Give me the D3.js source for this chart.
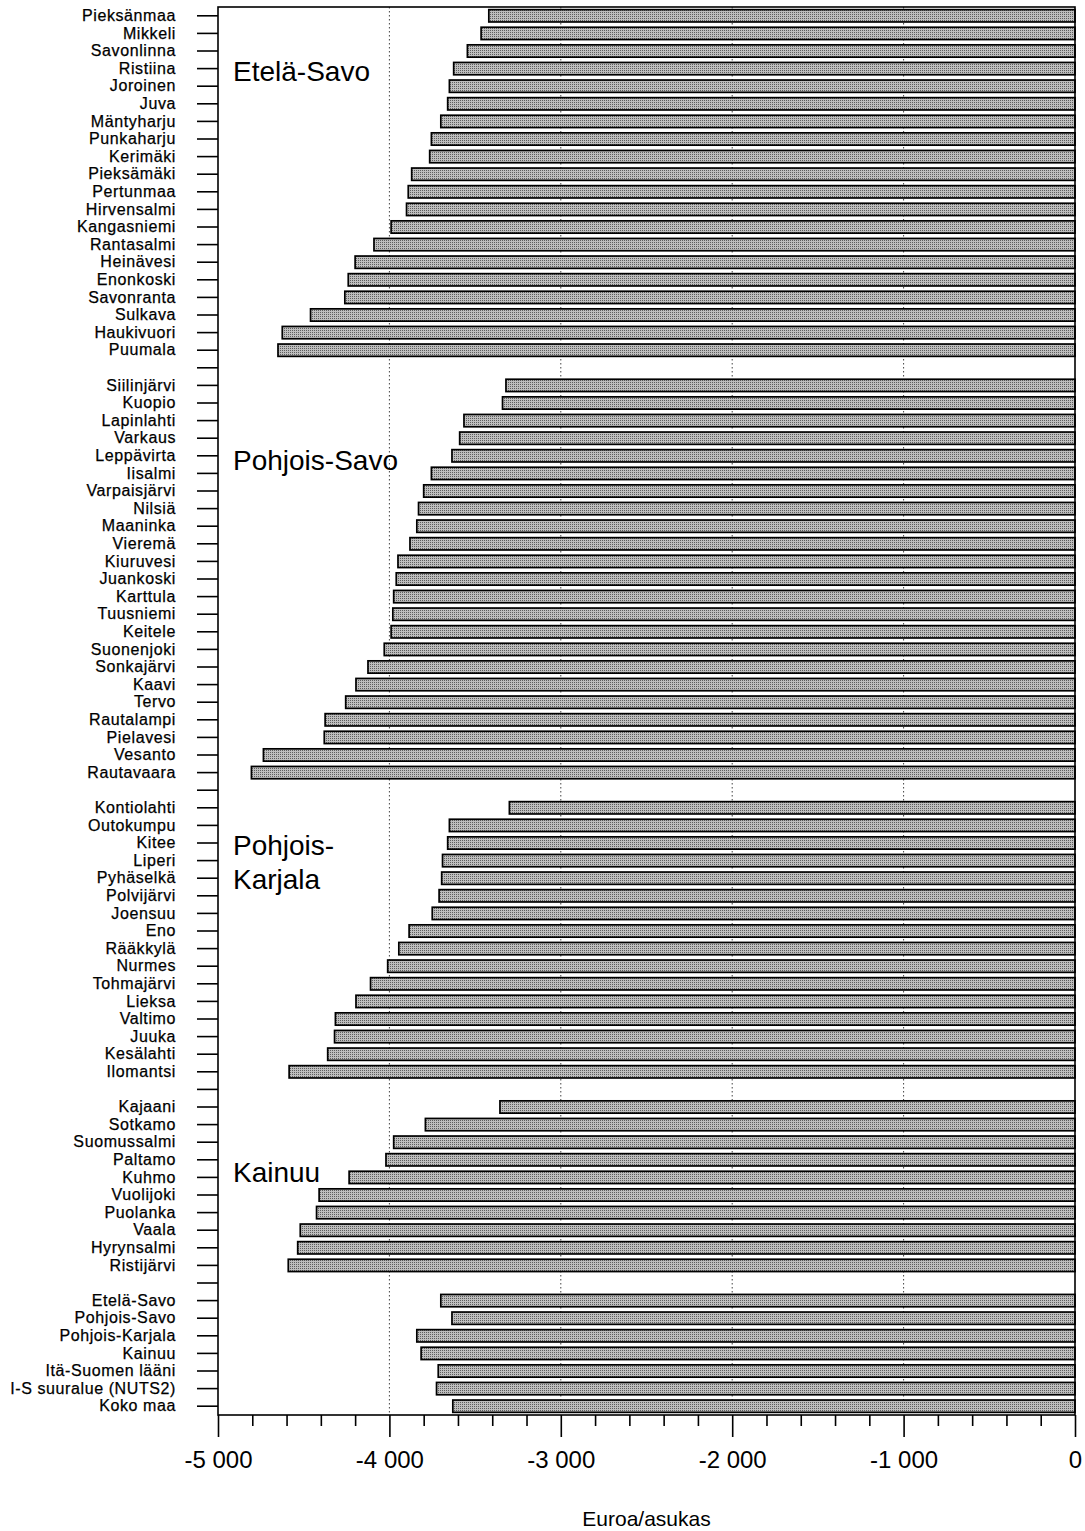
<!DOCTYPE html>
<html>
<head>
<meta charset="utf-8">
<script src="https://cdn.jsdelivr.net/npm/d3@7"></script>
<style>
  body { margin: 0; background: #fff; }
  svg { display: block; }
</style>
</head>
<body>
<svg id="chart"></svg>
<script>
// municipalities by region, values in euro per inhabitant
var etelaSavoNames = ["Pieksänmaa", "Mikkeli", "Savonlinna", "Ristiina", "Joroinen", "Juva", "Mäntyharju",
    "Punkaharju", "Kerimäki", "Pieksämäki", "Pertunmaa", "Hirvensalmi", "Kangasniemi", "Rantasalmi",
    "Heinävesi", "Enonkoski", "Savonranta", "Sulkava", "Haukivuori", "Puumala"];
var etelaSavoValues = [-3420, -3465, -3545, -3625, -3650, -3660, -3700, -3755, -3765, -3870, -3890,
    -3900, -3990, -4090, -4200, -4240, -4260, -4460, -4625, -4650];

var pohjoisSavoNames = ["Siilinjärvi", "Kuopio", "Lapinlahti", "Varkaus", "Leppävirta", "Iisalmi",
    "Varpaisjärvi", "Nilsiä", "Maaninka", "Vieremä", "Kiuruvesi", "Juankoski", "Karttula", "Tuusniemi",
    "Keitele", "Suonenjoki", "Sonkajärvi", "Kaavi", "Tervo", "Rautalampi", "Pielavesi", "Vesanto", "Rautavaara"];
var pohjoisSavoValues = [-3320, -3340, -3565, -3590, -3635, -3755, -3800, -3830, -3840, -3880, -3950,
    -3960, -3975, -3980, -3990, -4030, -4125, -4195, -4255, -4375, -4380, -4735, -4805];

var pohjoisKarjalaNames = ["Kontiolahti", "Outokumpu", "Kitee", "Liperi", "Pyhäselkä", "Polvijärvi",
    "Joensuu", "Eno", "Rääkkylä", "Nurmes", "Tohmajärvi", "Lieksa", "Valtimo", "Juuka", "Kesälahti", "Ilomantsi"];
var pohjoisKarjalaValues = [-3300, -3650, -3660, -3690, -3695, -3710, -3750, -3885, -3945, -4010,
    -4110, -4195, -4315, -4320, -4360, -4585];

var kainuuNames = ["Kajaani", "Sotkamo", "Suomussalmi", "Paltamo", "Kuhmo", "Vuolijoki", "Puolanka",
    "Vaala", "Hyrynsalmi", "Ristijärvi"];
var kainuuValues = [-3355, -3790, -3975, -4020, -4235, -4410, -4425, -4520, -4535, -4590];

var summaryNames = ["Etelä-Savo", "Pohjois-Savo", "Pohjois-Karjala", "Kainuu", "Itä-Suomen lääni",
    "I-S suuralue (NUTS2)", "Koko maa"];
var summaryValues = [-3700, -3635, -3840, -3815, -3715, -3725, -3630];

var groupTitles = [
    { lines: ["Etelä-Savo"], row: "Ristiina", dy: 19 },
    { lines: ["Pohjois-Savo"], row: "Leppävirta", dy: 20 },
    { lines: ["Pohjois-", "Karjala"], row: "Kitee", dy: 18 },
    { lines: ["Kainuu"], row: "Kuhmo", dy: 11 }
];

var xTicks = [-5000, -4000, -3000, -2000, -1000, 0];

var w = 1085, h = 1531;
var marginLeft = 218, marginRight = 10, plotTop = 7, plotBottom = 1415;
var labelFont = "'Liberation Sans', Arial, sans-serif";

// build the row list, with an empty row between the regions
var rows = [];
function addGroup(names, values, gapKey) {
    names.forEach(function(n, i) {
        rows.push({ key: n + "|" + rows.length, label: n, value: values[i] });
    });
    if (gapKey) rows.push({ key: gapKey, label: "", value: null });
}
addGroup(etelaSavoNames, etelaSavoValues, "gap1");
addGroup(pohjoisSavoNames, pohjoisSavoValues, "gap2");
addGroup(pohjoisKarjalaNames, pohjoisKarjalaValues, "gap3");
addGroup(kainuuNames, kainuuValues, "gap4");
addGroup(summaryNames, summaryValues, null);

var labelOf = {};
rows.forEach(function(r) { labelOf[r.key] = r.label; });

var svg = d3.select("#chart").attr("width", w).attr("height", h);

var x = d3.scaleLinear().domain([-5000, 0]).range([marginLeft, w - marginRight]);
var y = d3.scaleBand()
    .domain(rows.map(function(r) { return r.key; }))
    .range([plotTop, plotBottom])
    .paddingInner(0.3)
    .paddingOuter(0.15);

var fiLocale = d3.formatLocale({ decimal: ",", thousands: " ", grouping: [3], currency: ["", " €"], minus: "-" });
var fmt = fiLocale.format(",d");

// stipple fill for the bars
var defs = svg.append("defs");
var pat = defs.append("pattern")
    .attr("id", "stipple")
    .attr("patternUnits", "userSpaceOnUse")
    .attr("width", 2).attr("height", 2);
pat.append("rect").attr("width", 2).attr("height", 2).attr("fill", "#bebebe");
pat.append("rect").attr("width", 1).attr("height", 1).attr("fill", "#5e5e5e");

// dotted grid lines
svg.append("g")
    .selectAll("line")
    .data(xTicks.filter(function(d) { return d > -5000 && d < 0; }))
    .enter().append("line")
    .attr("x1", function(d) { return x(d); })
    .attr("x2", function(d) { return x(d); })
    .attr("y1", plotTop)
    .attr("y2", plotBottom)
    .attr("stroke", "#444")
    .attr("stroke-width", 1)
    .attr("stroke-dasharray", "1.5,2.5");

// bars
svg.append("g")
    .selectAll("rect")
    .data(rows.filter(function(r) { return r.value !== null; }))
    .enter().append("rect")
    .attr("x", function(d) { return x(d.value); })
    .attr("y", function(d) { return y(d.key); })
    .attr("width", function(d) { return x(0) - x(d.value); })
    .attr("height", y.bandwidth())
    .attr("fill", "url(#stipple)")
    .attr("stroke", "#000")
    .attr("stroke-width", 1.7);

// left axis with category labels
var yAxis = svg.append("g")
    .attr("transform", "translate(" + marginLeft + ",0)")
    .call(d3.axisLeft(y)
        .tickSize(21)
        .tickPadding(21)
        .tickFormat(function(k) { return labelOf[k]; }));
yAxis.select(".domain").remove();
yAxis.selectAll(".tick line").attr("stroke", "#000").attr("stroke-width", 1.6);
yAxis.selectAll(".tick text")
    .attr("fill", "#000")
    .attr("stroke", "#000")
    .attr("stroke-width", 0.25)
    .style("font-family", labelFont)
    .style("font-size", "16px")
    .style("letter-spacing", "0.6px");

// bottom axis, minor ticks first
var minorAxis = svg.append("g")
    .attr("transform", "translate(0," + plotBottom + ")")
    .call(d3.axisBottom(x)
        .tickValues(d3.range(-5000, 0, 200).filter(function(d) { return d % 1000 !== 0; }))
        .tickSize(11)
        .tickFormat(""));
minorAxis.select(".domain").remove();
minorAxis.selectAll(".tick line").attr("stroke", "#000").attr("stroke-width", 1.6);

var xAxis = svg.append("g")
    .attr("transform", "translate(0," + plotBottom + ")")
    .call(d3.axisBottom(x)
        .tickValues(xTicks)
        .tickSize(22)
        .tickPadding(14)
        .tickFormat(fmt));
xAxis.select(".domain").remove();
xAxis.selectAll(".tick line").attr("stroke", "#000").attr("stroke-width", 1.6);
xAxis.selectAll(".tick text")
    .attr("fill", "#000")
    .style("font-family", labelFont)
    .style("font-size", "24px");

// plot frame
svg.append("rect")
    .attr("x", marginLeft)
    .attr("y", plotTop)
    .attr("width", x(0) - marginLeft)
    .attr("height", plotBottom - plotTop)
    .attr("fill", "none")
    .attr("stroke", "#000")
    .attr("stroke-width", 1.6);

// region titles inside the plot
groupTitles.forEach(function(g) {
    var key = rows.filter(function(r) { return r.label === g.row; })[0].key;
    var t = svg.append("text")
        .attr("x", marginLeft + 15)
        .attr("y", y(key) + g.dy)
        .attr("fill", "#000")
        .style("font-family", labelFont)
        .style("font-size", "28px");
    g.lines.forEach(function(line, i) {
        t.append("tspan")
            .attr("x", marginLeft + 15)
            .attr("dy", i === 0 ? 0 : 34)
            .text(line);
    });
});

// axis title
svg.append("text")
    .attr("x", (marginLeft + x(0)) / 2)
    .attr("y", 1526)
    .attr("text-anchor", "middle")
    .attr("fill", "#000")
    .style("font-family", labelFont)
    .style("font-size", "21px")
    .text("Euroa/asukas");
</script>
</body>
</html>
